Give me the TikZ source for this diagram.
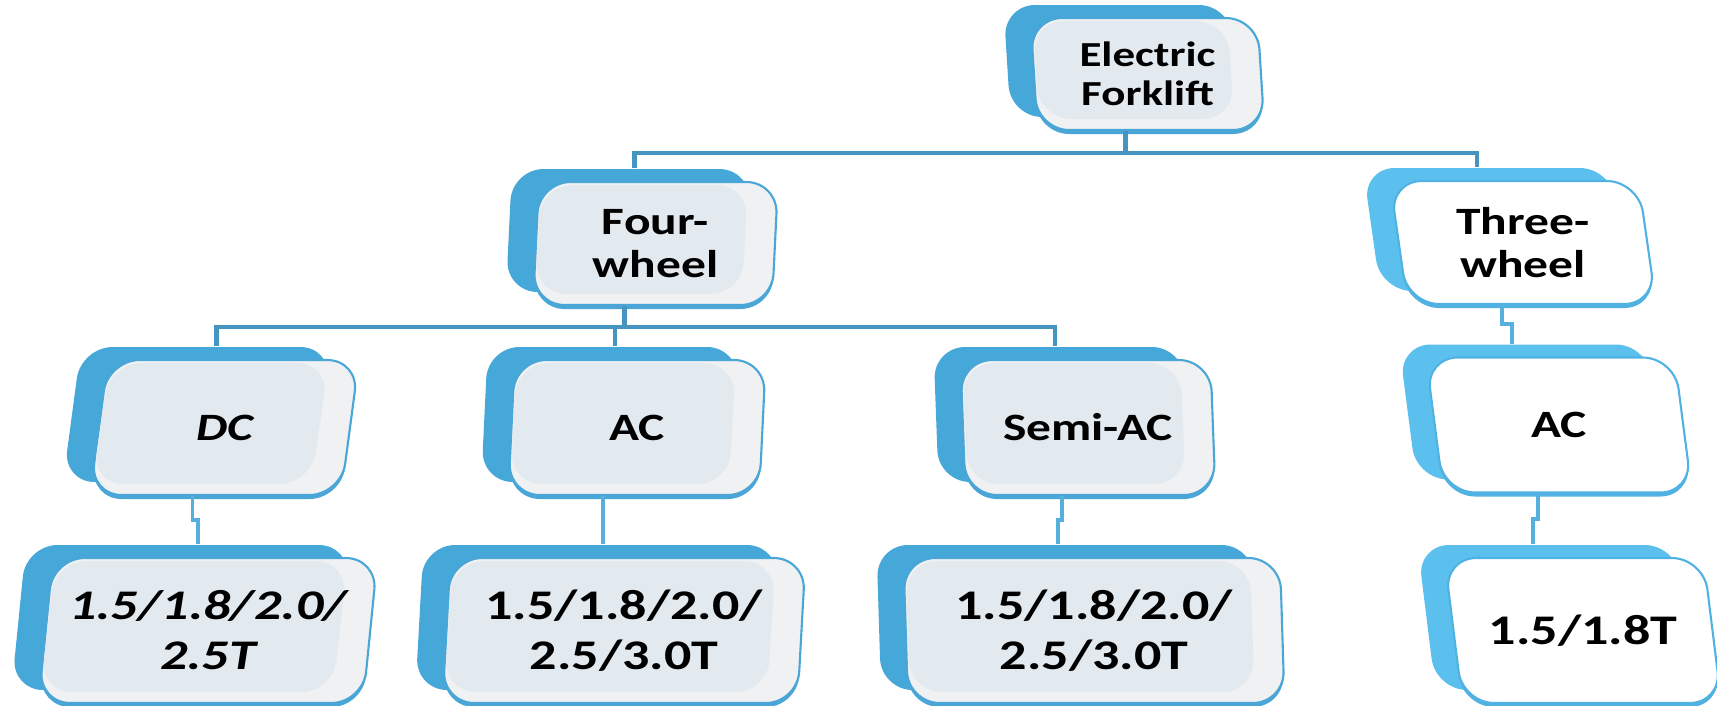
\documentclass[tikz,border=0pt]{standalone}
\usepackage{fontspec}
\newfontfamily\cardfont{Carlito}[FakeStretch=1.28]
\usetikzlibrary{calc}

\definecolor{back-l}{RGB}{70,167,217}
\definecolor{back-r}{RGB}{92,192,238}
\definecolor{edge-l}{RGB}{74,166,214}
\definecolor{edge-r}{RGB}{80,178,226}
\definecolor{face-l}{RGB}{240,241,242}
\definecolor{face-r}{RGB}{255,255,255}
\definecolor{panel-l}{RGB}{226,234,240}
\definecolor{panel-r}{RGB}{255,255,255}
\definecolor{linkblue}{RGB}{70,148,192}
\definecolor{zigblue}{RGB}{86,176,222}

\tikzset{
  cardtext/.style={inner sep=0pt, align=center, text=black},
  lvl0/.style={font=\cardfont\bfseries\fontsize{10}{11}\selectfont},
  lvl1/.style={font=\cardfont\bfseries\fontsize{11}{12}\selectfont},
  lvl2/.style={font=\cardfont\bfseries\fontsize{11}{12}\selectfont},
  lvl3/.style={font=\cardfont\bfseries\fontsize{12}{14.2}\selectfont},
  link/.style={draw=linkblue, line width=1.15pt},
  zig/.style={draw=zigblue, line width=1.1pt},
}

% slanted card outline: (centre x,centre y)(width:height:slant), pixel units
\def\cardshape(#1,#2)(#3:#4:#5){[rounded corners=9]
  ({(#1)-(#3)/2+(#5)/2},{(#2)-(#4)/2}) -- ({(#1)+(#3)/2+(#5)/2},{(#2)-(#4)/2})
  -- ({(#1)+(#3)/2-(#5)/2},{(#2)+(#4)/2}) -- ({(#1)-(#3)/2-(#5)/2},{(#2)+(#4)/2}) -- cycle}

% \card[style]name(x,y)(w:h:slant){l or r}{text}
\def\card[#1]#2(#3,#4)(#5:#6:#7)#8#9{%
  \fill[back-#8, shift={(-27,-13)}] \cardshape(#3,#4)(#5:#6:#7);
  \fill[edge-#8, shift={(0,4)}] \cardshape(#3,#4)(#5:#6:#7);
  \filldraw[fill=face-#8, draw=edge-#8, line width=0.6pt] \cardshape(#3,#4)(#5:#6:#7);
  \fill[panel-#8] \cardshape({#3-14},{#4-4})({#5-32}:{#6-14}:#7);
  \node[cardtext, #1, minimum width={#5*0.01cm}, minimum height={#6*0.01cm}] (#2) at (#3,#4) {#9};
}

\begin{document}
\begin{tikzpicture}[x=0.01cm,y=-0.01cm]
  \useasboundingbox (0,0) rectangle (1717,705);
  %%%%% START %%%%%

  % top
  \card[lvl0]ef(1147.5,74)(227:112:-7){l}{Electric\\Forklift}

  % second row
  \card[lvl1]fw(655.5,243.5)(239:123:6){l}{Four-\\wheel}
  \card[lvl1]tw(1523,242.5)(248.5:123:-17.5){r}{Three-\\wheel}

  % drives
  \card[lvl2]dc(224.5,427.5)(251:135:18){l}{\itshape DC}
  \card[lvl2]ac(637,427.5)(251:135:6.5){l}{AC}
  \card[lvl2]sac(1088,427.5)(250:135:-5){l}{Semi-AC}
  \card[lvl2]acr(1559,425)(248.5:135:-17.5){r}{AC}

  % capacities
  \card[lvl3]dct(208,630.5)(324.5:145:14.5){l}{\itshape 1.5/1.8/2.0/\\\itshape 2.5T}
  \card[lvl3]act(624,630.5)(355:145:8){l}{1.5/1.8/2.0/\\2.5/3.0T}
  \card[lvl3]sact(1094,630.5)(376.5:145:-4.5){l}{1.5/1.8/2.0/\\2.5/3.0T}
  \card[lvl3]acrt(1583,630.5)(259:145:-18){r}{1.5/1.8T}

  % connectors
  \coordinate (bus1) at (0,153);
  \coordinate (bus2) at (0,327);
  \path ($(ef.south)+(-22,0)$) coordinate (ef-out)
        ($(fw.north)+(-21,-13)$) coordinate (fw-in)
        ($(tw.north)+(-46,-13)$) coordinate (tw-in)
        ($(fw.south)+(-31,0)$) coordinate (fw-out)
        ($(dc.north)+(-8,-13)$) coordinate (dc-in)
        ($(ac.north)+(-22,-13)$) coordinate (ac-in)
        ($(sac.north)+(-33,-13)$) coordinate (sac-in)
        ($(tw.south)+(-21,0)$) coordinate (tw-out)
        ($(acr.north)+(-47,-13)$) coordinate (acr-in);
  \path ($(dc.south)+(-32,0)$) coordinate (dc-out)
        ($(ac.south)+(-34,0)$) coordinate (ac-out)
        ($(sac.south)+(-26,0)$) coordinate (sac-out)
        ($(acr.south)+(-21,0)$) coordinate (acr-out)
        ($(dct.north)+(-10,-13)$) coordinate (dct-in)
        ($(act.north)+(-21,-13)$) coordinate (act-in)
        ($(sact.north)+(-36,-13)$) coordinate (sact-in)
        ($(acrt.north)+(-50,-13)$) coordinate (acrt-in);

  \draw[link] (ef-out) -- (ef-out |- bus1);
  \draw[link] (fw-in) -- (fw-in |- bus1) -- (tw-in |- bus1) -- (tw-in);
  \draw[link] (fw-out) -- (fw-out |- bus2);
  \draw[link] (dc-in) -- (dc-in |- bus2) -- (sac-in |- bus2) -- (sac-in);
  \draw[link] (ac-in) -- (ac-in |- bus2);

  \draw[zig] (tw-out) |- ($(tw-out)!.5!(acr-in)$) -| (acr-in);
  \draw[zig] (dc-out) |- ($(dc-out)!.5!(dct-in)$) -| (dct-in);
  \draw[zig] (ac-out) -- (act-in);
  \draw[zig] (sac-out) |- ($(sac-out)!.5!(sact-in)$) -| (sact-in);
  \draw[zig] (acr-out) |- ($(acr-out)!.5!(acrt-in)$) -| (acrt-in);

  %%%%% END %%%%%
\end{tikzpicture}
\end{document}
